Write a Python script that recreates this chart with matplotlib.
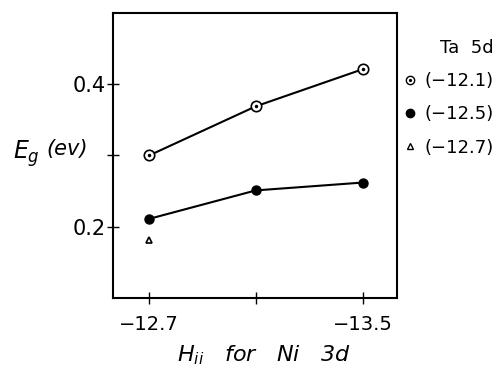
import numpy as np
import matplotlib
matplotlib.use("Agg")
import matplotlib.pyplot as plt
from matplotlib.lines import Line2D
from matplotlib.legend_handler import HandlerTuple

# H_ii for Ni 3d (eV)
ni_hii = [-12.7, -13.1, -13.5]
# band gap for each Ta 5d H_ii
eg_ta_121 = [0.300, 0.369, 0.421]
eg_ta_125 = [0.211, 0.251, 0.262]
eg_ta_127 = [0.182]
ta_labels = ['(\u221212.1)', '(\u221212.5)', '(\u221212.7)']

xticks = [-12.7, -13.1, -13.5]
xticklabels = ['\u221212.7', '', '\u221213.5']
yticks = [0.2, 0.3, 0.4]
yticklabels = ['0.2', '', '0.4']

fig = plt.figure(figsize=(5.03, 3.88), dpi=100)
ax = fig.add_axes([0.2247, 0.232, 0.565, 0.7345])

ax.plot(ni_hii, eg_ta_121, '-', color='black', lw=1.5, zorder=1)
ax.plot(ni_hii, eg_ta_121, 'o', ms=7.5, mfc='white', mec='black', mew=1.2, zorder=2)
ax.plot(ni_hii, eg_ta_121, 'o', ms=1.5, color='black', zorder=3)
ax.plot(ni_hii, eg_ta_125, '-o', color='black', lw=1.5, ms=6.5, zorder=2)
ax.plot(ni_hii[:1], eg_ta_127, '^', ms=5, mfc='white', mec='black', mew=1.2)

ax.set_xlim(-12.565, -13.63)
ax.set_ylim(0.1, 0.5)
ax.set_xticks(xticks)
ax.set_xticklabels(xticklabels)
ax.set_yticks(yticks)
ax.set_yticklabels(yticklabels)
ax.tick_params(direction='inout', length=8, width=1.0, labelsize=15, pad=1)
ax.tick_params(axis='x', pad=8, labelsize=14)
for s in ax.spines.values():
    s.set_linewidth(1.5)

fig.text(0.026, 0.605, r'$E_g$', fontsize=17, style='italic', ha='left', va='center')
fig.text(0.092, 0.615, '(ev)', fontsize=15, style='italic', ha='left', va='center')
fig.text(0.525, 0.085, r'$H_{ii}$   for   Ni   3d', fontsize=16, style='italic',
         ha='center', va='center')

# legend for the Ta 5d values
h1 = (Line2D([], [], ls='none', marker='o', ms=6, mfc='white', mec='black', mew=1.0),
      Line2D([], [], ls='none', marker='o', ms=1.3, color='black'))
h2 = Line2D([], [], ls='none', marker='o', ms=6, color='black')
h3 = Line2D([], [], ls='none', marker='^', ms=5, mfc='white', mec='black', mew=1.0)
leg = ax.legend([h1, h2, h3], ta_labels, title='Ta  5d', frameon=False,
                loc='upper left', bbox_to_anchor=(0.995, 0.935),
                handler_map={tuple: HandlerTuple(ndivide=1)},
                fontsize=13, title_fontsize=13, handlelength=0.8,
                handletextpad=0.4, labelspacing=0.85, borderaxespad=0)
leg._legend_box.align = 'right'

fig.savefig('out.png', dpi=100)
